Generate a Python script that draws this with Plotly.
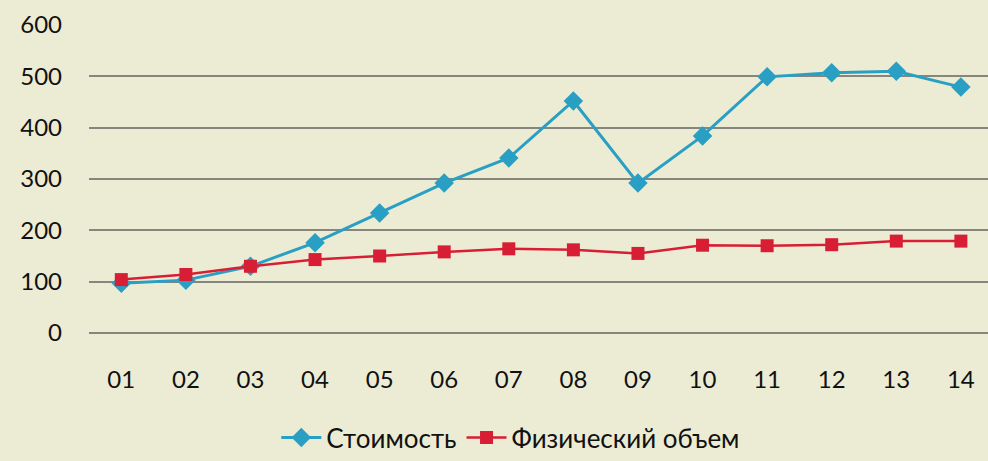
import plotly.graph_objects as go

# Years (two-digit labels) and the two index series
years = ["01", "02", "03", "04", "05", "06", "07", "08", "09", "10", "11", "12", "13", "14"]
cost = [97, 103, 130, 176, 234, 292, 341, 452, 292, 384, 499, 507, 510, 479]
volume = [104, 114, 130, 143, 150, 158, 164, 162, 155, 171, 170, 172, 179, 179]
y_ticks = [0, 100, 200, 300, 400, 500, 600]

BG = "#ECECD4"
TEAL = "#2A9FC4"
RED = "#D81E34"
FONT = "Lato"

fig = go.Figure()
fig.add_trace(go.Scatter(
    x=years, y=cost, name="Стоимость", mode="lines+markers",
    line=dict(color=TEAL, width=3),
    marker=dict(symbol="diamond", size=15, color=TEAL),
))
fig.add_trace(go.Scatter(
    x=years, y=volume, name="Физический объем", mode="lines+markers",
    line=dict(color=RED, width=2.5),
    marker=dict(symbol="square", size=13, color=RED),
))

fig.update_layout(
    width=988, height=461,
    paper_bgcolor=BG, plot_bgcolor=BG,
    margin=dict(l=89, r=0, t=25, b=128),
    font=dict(family=FONT, size=24, color="#111111"),
    showlegend=True,
    legend=dict(
        orientation="h", xref="container", yref="container",
        x=0.517, xanchor="center", y=0.0, yanchor="bottom",
        font=dict(size=26), bgcolor="rgba(0,0,0,0)", itemwidth=40,
        tracegroupgap=0,
    ),
)
fig.update_xaxes(
    type="category", range=[-0.5, 13.42], automargin=False,
    showgrid=False, zeroline=False, showline=False, ticks="",
    ticklabelstandoff=30, tickfont=dict(size=24),
)
fig.update_yaxes(
    range=[0, 600], tickvals=y_ticks, automargin=False,
    showgrid=True, gridcolor="#86867E", gridwidth=1.6,
    zeroline=True, zerolinecolor="#86867E", zerolinewidth=1.6,
    showline=False, ticks="", ticklabelstandoff=26, tickfont=dict(size=24),
)

fig.write_html("out.html")
